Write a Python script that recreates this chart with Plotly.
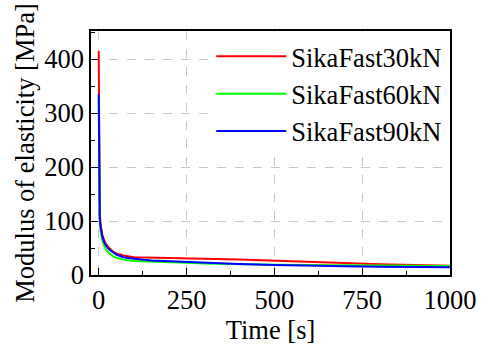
import plotly.graph_objects as go

time_s = [0, 0.5, 1, 2, 3, 5, 7, 10, 15, 20, 30, 40, 50, 70, 100, 150, 200, 250, 300, 400, 500, 600, 700, 800, 900, 1000]
red_30kN = [415, 300, 200, 140, 115, 95, 85, 75, 65, 58, 50, 44, 40, 36, 33, 32, 31.5, 31, 30, 28.5, 26, 24, 22, 20, 18.5, 17]
green_60kN = [330, 240, 170, 120, 100, 83, 73, 65, 55, 48, 40, 35, 32, 28.5, 26, 24.5, 23.5, 22.5, 21.5, 20, 19, 18.5, 18, 17.5, 17, 16.5]
blue_90kN = [335, 250, 180, 130, 108, 90, 80, 72, 62, 55, 47, 42, 38, 33, 30, 27, 25.5, 24, 23, 20.5, 18.5, 17, 16, 15.5, 15, 14.5]
series_names = ["SikaFast30kN", "SikaFast60kN", "SikaFast90kN"]
x_ticks = [0, 250, 500, 750, 1000]
y_ticks = [0, 100, 200, 300, 400]

colors = ["#ff0000", "#00ff00", "#0000ff"]
font = "Liberation Serif, Times New Roman, serif"
fs = 26.5

fig = go.Figure()
for name, ys, c in zip(series_names, [red_30kN, green_60kN, blue_90kN], colors):
    fig.add_trace(go.Scatter(x=time_s, y=ys, mode="lines", name=name,
                             line=dict(color=c, width=2)))

axis_common = dict(
    showline=True, linecolor="black", linewidth=1.5, mirror=True,
    ticks="inside", ticklen=7, tickwidth=1.2, tickcolor="black",
    showgrid=True, gridcolor="#c8c8c8", griddash="dash", gridwidth=1,
    zeroline=False,
    tickfont=dict(family=font, size=fs, color="black"),
    title_font=dict(family=font, size=fs, color="black"),
)

fig.update_layout(
    width=489, height=345,
    margin=dict(l=91, r=32, t=31, b=60),
    paper_bgcolor="white", plot_bgcolor="white",
    font=dict(family=font, color="black"),
    showlegend=True,
    legend=dict(x=0.335, y=0.994, xanchor="left", yanchor="top",
                bgcolor="white", borderwidth=0,
                font=dict(family=font, size=fs, color="black"),
                itemwidth=70, tracegroupgap=0),
    xaxis=dict(axis_common, range=[-22, 1000], tickvals=x_ticks,
               title=dict(text="Time [s]", standoff=0),
               minor=dict(ticks="inside", ticklen=4, dtick=125, tick0=0, tickcolor="black", showgrid=False)),
    yaxis=dict(axis_common, range=[0, 452], tickvals=y_ticks,
               title=dict(text="Modulus of elasticity [MPa]", standoff=2),
               minor=dict(ticks="inside", ticklen=4, dtick=50, tick0=0, tickcolor="black", showgrid=False)),
)

fig.write_html("out.html")
